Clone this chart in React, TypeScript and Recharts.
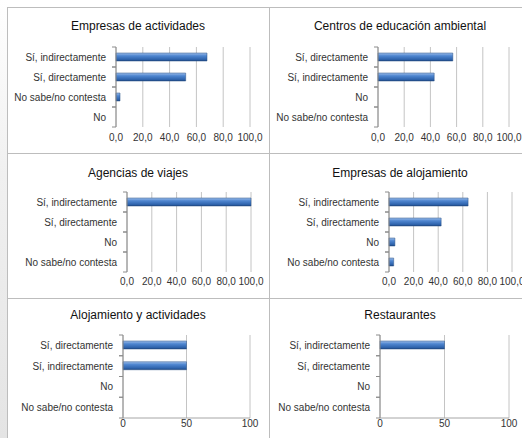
import { Bar, BarChart, CartesianGrid, XAxis, YAxis } from "recharts";

const catsActividades = ["Sí, indirectamente", "Sí, directamente", "No sabe/no contesta", "No"];
const valsActividades = [67.9, 52.0, 3.0, 0];

const catsEducacion = ["Sí, directamente", "Sí, indirectamente", "No", "No sabe/no contesta"];
const valsEducacion = [57.1, 42.9, 0, 0];

const catsAgencias = ["Sí, indirectamente", "Sí, directamente", "No", "No sabe/no contesta"];
const valsAgencias = [100, 0, 0, 0];

const catsAlojamiento = ["Sí, indirectamente", "Sí, directamente", "No", "No sabe/no contesta"];
const valsAlojamiento = [64.3, 42.4, 4.8, 3.8];

const catsAlojActiv = ["Sí, directamente", "Sí, indirectamente", "No", "No sabe/no contesta"];
const valsAlojActiv = [50, 50, 0, 0];

const catsRestaurantes = ["Sí, indirectamente", "Sí, directamente", "No", "No sabe/no contesta"];
const valsRestaurantes = [50, 0, 0, 0];

const ticksDecimal = [0, 20, 40, 60, 80, 100];
const ticksInt = [0, 50, 100];

const FONT = "'Liberation Sans', Arial, sans-serif";
const PANEL_W = 262;

type PanelProps = {
  id: string;
  title: string;
  cats: string[];
  vals: number[];
  ticks: number[];
  decimals: boolean;
  left: number;
  top: number;
  height: number;
  titleY: number;
  margin: { top: number; right: number; bottom: number; left: number };
  yWidth: number;
  xAxisLine: boolean;
  tickGap: number;
};

function Panel(p: PanelProps) {
  const data = p.cats.map((c, i) => ({ name: c, value: p.vals[i] }));
  const band = (p.height - p.margin.top - p.margin.bottom - 20) / p.cats.length;
  const fmt = (v: number) => (p.decimals ? v.toFixed(1).replace(".", ",") : String(v));

  const YTick = (props: any) => {
    const { x, y, payload } = props;
    return (
      <g>
        <line x1={x - 4} x2={x} y1={y - band / 2} y2={y - band / 2} stroke="#8c8c8c" />
        <line x1={x - 4} x2={x} y1={y + band / 2} y2={y + band / 2} stroke="#8c8c8c" />
        <text
          x={x - 10}
          y={y}
          textAnchor="end"
          dominantBaseline="central"
          fontSize={10}
          fill="#333"
          fontFamily={FONT}
        >
          {payload.value}
        </text>
      </g>
    );
  };

  return (
    <div style={{ position: "absolute", left: p.left, top: p.top, width: PANEL_W, height: p.height }}>
      <div
        style={{
          position: "absolute",
          left: 0,
          width: PANEL_W,
          top: p.titleY - 9,
          textAlign: "center",
          fontFamily: FONT,
          fontSize: 12,
          lineHeight: "18px",
          color: "#111",
        }}
      >
        {p.title}
      </div>
      <BarChart
        width={PANEL_W}
        height={p.height}
        layout="vertical"
        data={data}
        margin={p.margin}
        barSize={8}
      >
        <defs>
          <linearGradient id={`g-${p.id}`} x1="0" y1="0" x2="0" y2="1">
            <stop offset="0%" stopColor="#9dbde9" />
            <stop offset="35%" stopColor="#4f86d0" />
            <stop offset="80%" stopColor="#2f64ad" />
            <stop offset="100%" stopColor="#1c4580" />
          </linearGradient>
        </defs>
        <CartesianGrid horizontal={false} stroke="#c4c4c4" />
        <XAxis
          type="number"
          domain={[0, 100]}
          ticks={p.ticks}
          tickFormatter={fmt}
          axisLine={p.xAxisLine ? { stroke: "#a6a6a6" } : false}
          tickLine={false}
          tickSize={0}
          tickMargin={p.tickGap}
          height={20}
          interval={0}
          tick={{ fontSize: 10, fill: "#333", fontFamily: FONT }}
        />
        <YAxis
          type="category"
          dataKey="name"
          width={p.yWidth}
          axisLine={{ stroke: "#8c8c8c" }}
          tickLine={false}
          tickSize={0}
          tickMargin={0}
          tick={<YTick />}
          interval={0}
        />
        <Bar
          dataKey="value"
          fill={`url(#g-${p.id})`}
          stroke="#2a5286"
          strokeWidth={0.5}
          isAnimationActive={false}
        />
      </BarChart>
    </div>
  );
}

export default function App() {
  return (
    <div
      style={{
        position: "absolute",
        left: 0,
        top: 0,
        width: 522,
        height: 438,
        overflow: "hidden",
        background: "#fff",
      }}
    >
      <div
        style={{
          position: "absolute",
          left: 0,
          top: 0,
          width: 7,
          height: 438,
          background: "linear-gradient(#ffffff, #f0f0f0 40%, #e4e4e4)",
        }}
      />
      {/* panel borders */}
      <div style={{ position: "absolute", left: 7, top: 7, width: 1, height: 438, background: "#bdbdbd" }} />
      <div style={{ position: "absolute", left: 7, top: 7, width: 520, height: 1, background: "#bdbdbd" }} />
      <div style={{ position: "absolute", left: 269, top: 7, width: 1, height: 438, background: "#bdbdbd" }} />
      <div style={{ position: "absolute", left: 7, top: 153, width: 520, height: 1, background: "#bdbdbd" }} />
      <div style={{ position: "absolute", left: 7, top: 298, width: 520, height: 1, background: "#bdbdbd" }} />

      <Panel
        id="p1"
        title="Empresas de actividades"
        cats={catsActividades}
        vals={valsActividades}
        ticks={ticksDecimal}
        decimals
        left={7}
        top={7}
        height={146}
        titleY={19}
        margin={{ top: 40, right: 19, bottom: 6, left: 0 }}
        yWidth={109}
        xAxisLine={false}
        tickGap={7}
      />
      <Panel
        id="p2"
        title="Centros de educación ambiental"
        cats={catsEducacion}
        vals={valsEducacion}
        ticks={ticksDecimal}
        decimals
        left={269}
        top={7}
        height={146}
        titleY={19}
        margin={{ top: 40, right: 22, bottom: 6, left: 0 }}
        yWidth={109}
        xAxisLine={false}
        tickGap={7}
      />
      <Panel
        id="p3"
        title="Agencias de viajes"
        cats={catsAgencias}
        vals={valsAgencias}
        ticks={ticksDecimal}
        decimals
        left={7}
        top={153}
        height={145}
        titleY={20}
        margin={{ top: 39, right: 18, bottom: 6, left: 0 }}
        yWidth={120}
        xAxisLine={false}
        tickGap={6}
      />
      <Panel
        id="p4"
        title="Empresas de alojamiento"
        cats={catsAlojamiento}
        vals={valsAlojamiento}
        ticks={ticksDecimal}
        decimals
        left={269}
        top={153}
        height={145}
        titleY={20}
        margin={{ top: 39, right: 19, bottom: 6, left: 0 }}
        yWidth={120}
        xAxisLine={false}
        tickGap={6}
      />
      <Panel
        id="p5"
        title="Alojamiento y actividades"
        cats={catsAlojActiv}
        vals={valsAlojActiv}
        ticks={ticksInt}
        decimals={false}
        left={7}
        top={298}
        height={145}
        titleY={17}
        margin={{ top: 37, right: 19, bottom: 5, left: 0 }}
        yWidth={116}
        xAxisLine
        tickGap={2}
      />
      <Panel
        id="p6"
        title="Restaurantes"
        cats={catsRestaurantes}
        vals={valsRestaurantes}
        ticks={ticksInt}
        decimals={false}
        left={269}
        top={298}
        height={145}
        titleY={17}
        margin={{ top: 37, right: 22, bottom: 5, left: 0 }}
        yWidth={111}
        xAxisLine
        tickGap={2}
      />
    </div>
  );
}
